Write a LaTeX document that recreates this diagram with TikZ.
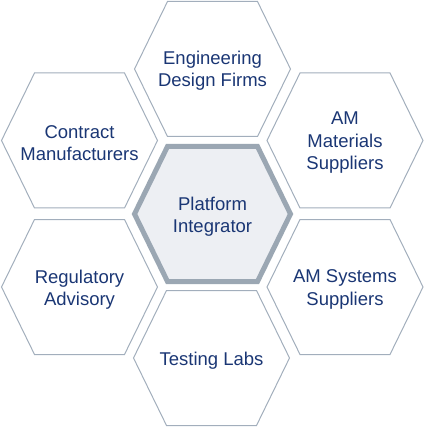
\documentclass[tikz,border=0pt]{standalone}
\usepackage{fontspec}
\setmainfont{Liberation Sans}
\definecolor{hexline}{HTML}{A2AEBC}
\definecolor{coreline}{HTML}{9BA7B3}
\definecolor{corefill}{HTML}{EDEFF3}
\definecolor{txt}{HTML}{1A3674}
\tikzset{
  hexshape/.pic={\path[pic actions] (-78,0) -- (-45,-67.5) -- (45,-67.5) -- (78,0) -- (45,67.5) -- (-45,67.5) -- cycle;},
  outerhex/.style={draw=hexline, line width=1pt, line join=miter},
  corehex/.style={draw=coreline, fill=corefill, line width=5pt, line join=miter},
  label/.style={text=txt, align=center, font=\fontsize{18.5}{22.5}\selectfont, inner sep=0pt}
}
\begin{document}
\begin{tikzpicture}[x=1pt,y=-1pt]
\useasboundingbox (0,0) rectangle (425,427);
\pic[outerhex] at (212.5,69) {hexshape};
\pic[outerhex] at (79.5,140.5) {hexshape};
\pic[outerhex] at (345,140.5) {hexshape};
\pic[outerhex] at (79.5,287) {hexshape};
\pic[outerhex] at (345,287) {hexshape};
\pic[outerhex] at (211.5,358) {hexshape};
\pic[corehex] at (212.5,214) {hexshape};
\node[label] (eng) at (212.5,70.5) {Engineering\\Design Firms};
\node[label] (con) at (79.5,143) {Contract\\Manufacturers};
\node[label] (mat) at (345,143) {AM\\Materials\\Suppliers};
\node[label] (reg) at (79.5,289.5) {Regulatory\\Advisory};
\node[label] (sys) at (345,289.5) {AM Systems\\Suppliers};
\node[label] (lab) at (211.5,360.5) {Testing Labs};
\node[label] (core) at (212.5,216.5) {Platform\\Integrator};
\end{tikzpicture}
\end{document}
